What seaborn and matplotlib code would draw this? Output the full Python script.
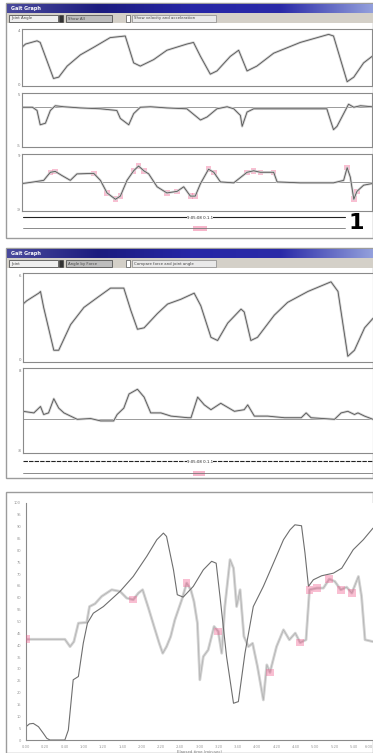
import numpy as np
import pandas as pd
import seaborn as sns
import matplotlib.pyplot as plt
from matplotlib.patches import Rectangle
from matplotlib.lines import Line2D
from matplotlib.colors import LinearSegmentedColormap

W, H = 373, 753

# ---- window 1 : three traces ----
w1_angle_x = [0, 1, 4.3, 5.2, 9, 10.5, 12.9, 16.7, 20.5, 25.2, 29.5, 31.9, 33.8, 37.6, 41.4, 47.1,
              49, 51, 53.8, 55.7, 59.5, 61.9, 64.3, 67.1, 71.9, 79.5, 87.6, 89, 92.9, 94.8, 97.6, 100]
w1_angle_y = [69, 75, 81, 78, 11, 13.5, 34, 55, 69, 87, 90, 40, 34, 46, 63.5, 75,
              78, 52, 19, 25, 52, 63.5, 25, 34, 58, 78, 93, 90, 5, 13.5, 40, 52]

w1_vel_x = [0, 3, 4.3, 5.2, 6.7, 8.1, 9.5, 11.9, 16.7, 22.4, 27.1, 28.1, 30.5, 31.9, 33.8, 36.7, 41.4,
            47.1, 51, 52.9, 55.7, 58.6, 60.5, 62.4, 62.9, 64.3, 66.2, 74.8, 87.1, 88.1, 89, 90, 91.9,
            93.3, 94.8, 96.7, 100]
w1_vel_y = [75, 75, 68.7, 40.6, 43.7, 68.7, 78, 76, 73.7, 72, 68.7, 53, 40.6, 62.5, 75, 76, 73.7,
            72, 50, 56, 72, 76, 72, 59, 37.5, 65.6, 72, 72, 72, 50, 31, 37.5, 62.5, 81, 75, 78, 76]
w1_vel_base = 75

w1_acc_x = [0, 3.3, 6.2, 8.1, 9.5, 11.4, 13.8, 15.7, 20.5, 22.4, 24.3, 26.7, 28.1, 30, 31.9, 33.3,
            34.8, 36.2, 38.6, 41.4, 44.3, 46.2, 48.1, 49.5, 51, 53.3, 54.8, 56.7, 60.5, 64.3, 66.2,
            68.1, 71.9, 72.9, 79.5, 89, 91.9, 92.9, 93.8, 94.8, 95.7, 97.6, 100]
w1_acc_y = [48, 51, 54, 69, 70.6, 63, 54, 66, 67, 54, 30.6, 18.8, 24.7, 54, 71.8, 80.6,
            71.8, 66, 42, 30.6, 33.5, 42, 24.7, 24.7, 48, 74.7, 69, 51, 49.4, 69, 71.8,
            69, 69, 51, 49.4, 49.4, 54, 77.6, 60, 18.8, 33.5, 45, 48]
w1_acc_base = 51

# ---- window 2 : two traces ----
w2_angle_x = [0, 1.1, 4.5, 5, 5.9, 8.8, 10.2, 13.6, 17.4, 21.2, 25, 28.8, 30.8, 32.7, 34.6, 38.4,
              41.3, 45.1, 48.9, 50.8, 53.7, 55.6, 58.5, 62.3, 63.2, 65.1, 67, 71.8, 75.6, 81.4,
              88, 90, 92.8, 94.7, 97.6, 100]
w2_angle_y = [66, 70, 79, 81, 62, 11, 11, 41.5, 62, 73.6, 85, 85, 58.5, 36, 37.7, 54.7,
              66, 71.7, 79, 64, 26.4, 22.6, 43.4, 60, 56.6, 22.6, 26.4, 52.8, 68, 81,
              92.5, 81, 3.8, 11, 37.7, 49]

w2_force_x = [0, 3.1, 5, 5.9, 7.3, 8.8, 10.2, 11.7, 15.5, 19.3, 22.2, 25.9, 26.9, 28.8, 30.3,
              32.7, 34.6, 36.5, 39.4, 42.3, 47.1, 48, 49.9, 51.8, 53.7, 56.5, 60.4, 63.2, 64.2,
              66.1, 69.9, 74.7, 79.5, 80.9, 82.3, 89, 90.9, 92.8, 94.7, 95.7, 97.6, 100]
w2_force_y = [49, 47, 55, 45, 47, 64.7, 53, 47, 39, 40, 37, 37, 45, 53, 70.6,
              76.5, 66.7, 47, 47, 43, 41, 41, 66.7, 57, 51, 59, 49, 51, 57,
              43, 43, 41, 41, 47, 41, 39, 47, 49, 45, 47, 43, 39]
w2_force_base = 39

# ---- bottom chart ----
c_dark_x = [0, 1, 2.1, 3.6, 5, 6, 6.9, 11.2, 12.2, 13.6, 15.1, 16.5, 17.7, 19.4, 22.3, 27.1,
            30.9, 34.8, 37.7, 39.6, 40.5, 42.5, 43.6, 45.3, 48.2, 51.1, 53.5, 54.8, 55.9, 57.8,
            59.8, 61.2, 63.1, 65.5, 68.4, 71.3, 74.2, 76.1, 77.5, 79.4, 80.4, 81.4, 82.8, 85.2,
            88.6, 91, 94.3, 97.2, 100]
c_dark_y = [5.6, 6.8, 7, 5.6, 2.8, 0.7, 0, 0, 4.2, 25.4, 26.8, 40.8, 49.3, 53.5, 56.3, 62.7,
            69, 77.5, 84.5, 87.3, 85.9, 71.8, 61.3, 60.3, 64.8, 71.8, 75.4, 74.6, 60.6, 35.2,
            15.5, 16.2, 36.6, 56.3, 64.8, 74.6, 84.5, 88.7, 90.8, 90.4, 78.9, 64.8, 67.6, 69.3,
            70.4, 72.5, 80.3, 84.5, 89.4]

c_light_x = [0, 11.2, 12.7, 13.8, 15.1, 17.5, 18.3, 19.9, 21.8, 24.7, 27.1, 29, 30.9, 32.4, 33.6,
             35.3, 36.9, 38.4, 39.4, 40.5, 41.7, 42.9, 44.9, 46.3, 47.5, 48.4, 49.4, 50.1, 51.1,
             52.5, 54.2, 55.4, 56.4, 57.3, 58.8, 59.8, 60.7, 61.7, 62.8, 64.1, 65.3, 66.7, 68.4,
             69.4, 70.3, 72.2, 74.2, 75.9, 77.6, 79, 80.7, 81.7, 83.8, 85.7, 87.4, 89, 90.7, 92.4,
             93.9, 95.8, 96.7, 97.7, 100]
c_light_y = [42.5, 42.5, 39.4, 41.5, 49.3, 49.6, 56.3, 57.5, 60.6, 63.4, 62.7, 59.9, 59.2, 62, 63.4,
             55.6, 47.9, 40.8, 36.6, 39.4, 43.7, 50.7, 59.2, 66.2, 63.4, 58.5, 49.3, 25.4, 35.2,
             38, 47.9, 45.8, 36.6, 56.3, 76.1, 72.5, 56.3, 63.4, 43.7, 39.4, 40.8, 31, 16.9,
             31.7, 28.5, 39.4, 46.5, 42.3, 45.1, 41.1, 42.3, 63.4, 64.1, 64.1, 67.9, 66.9, 63.4, 64.5,
             62, 69, 60.6, 42.3, 41.5]
c_light_flag = [1, 0, 0, 0, 0, 0, 0, 0, 0, 0, 0, 0, 1, 0, 0,
                0, 0, 0, 0, 0, 0, 0, 0, 1, 0, 0, 0, 0, 0,
                0, 0, 1, 0, 0, 0, 0, 0, 0, 0, 0, 0, 0, 0,
                0, 1, 0, 0, 0, 0, 1, 0, 1, 1, 0, 1, 0, 1, 0,
                1, 0, 0, 0, 0]

c_xticklabels = ["0:00", "0:20", "0:40", "1:00", "1:20", "1:40", "2:00", "2:20", "2:40", "3:00",
                 "3:20", "3:40", "4:00", "4:20", "4:40", "5:00", "5:20", "5:40", "6:00"]
c_yticklabels = ["0", "5", "10", "15", "20", "25", "30", "35", "40", "45", "50", "55", "60",
                 "65", "70", "75", "80", "85", "90", "95", "100"]

PINK = "#f06090"
GREY_LINE = "#d2d2d2"
DARK_LINE = "#555555"

sns.set_style("white")
plt.rcParams["font.family"] = ["DejaVu Sans"]

fig = plt.figure(figsize=(W / 100, H / 100), dpi=100)
fig.patch.set_facecolor("white")


def rect(x0, y0, x1, y1):
    return [x0 / W, 1 - y1 / H, (x1 - x0) / W, (y1 - y0) / H]


def box(x0, y0, x1, y1, **kw):
    fig.add_artist(Rectangle((x0 / W, 1 - y1 / H), (x1 - x0) / W, (y1 - y0) / H,
                             transform=fig.transFigure, **kw))


def hline(y, x0, x1, **kw):
    fig.add_artist(Line2D([x0 / W, x1 / W], [1 - y / H, 1 - y / H], transform=fig.transFigure, **kw))


def ftext(x, y, s, **kw):
    fig.text(x / W, 1 - y / H, s, **kw)


title_cmap = LinearSegmentedColormap.from_list("tb", ["#4a4a9c", "#1c1c7e", "#2626a6", "#2a2aa8", "#93a0dc"])


def window(y0, y1, title, combo1, combo2, check):
    # window background sits behind the chart axes
    box(6, y0, 372.5, y1, facecolor="white", edgecolor="#9c9c9c", lw=1.0, zorder=-10)
    tb = fig.add_axes(rect(7, y0 + 1, 373, y0 + 10))
    tb.imshow(np.linspace(0, 1, 256)[None, :], cmap=title_cmap, aspect="auto")
    tb.axis("off")
    tb.text(0.012, 0.5, title, transform=tb.transAxes, color="white", fontsize=3.5,
            fontweight="bold", va="center")
    box(7, y0 + 10, 373, y0 + 20, facecolor="#d4d0c8", edgecolor="none")
    box(9, y0 + 12, 58, y0 + 19, facecolor="#efefef", edgecolor="#555", lw=0.6)
    ftext(11, y0 + 15.5, combo1, fontsize=2.8, color="#444", va="center")
    box(59, y0 + 12, 63, y0 + 19, facecolor="#333", edgecolor="#333", lw=0.4)
    box(66, y0 + 12, 112, y0 + 19, facecolor="#bdbdbd", edgecolor="#555", lw=0.6)
    ftext(68, y0 + 15.5, combo2, fontsize=2.8, color="#444", va="center")
    box(126, y0 + 12, 130, y0 + 19, facecolor="white", edgecolor="#555", lw=0.5)
    box(132, y0 + 12, 216, y0 + 19, facecolor="#e9e9e9", edgecolor="#888", lw=0.5)
    ftext(134, y0 + 15.5, check, fontsize=2.8, color="#444", va="center")


def trace_axes(r, xs, ys, ylabels, base=None, flag_thresh=None):
    ax = fig.add_axes(rect(*r))
    df = pd.DataFrame({"t": xs, "v": ys})
    sns.lineplot(data=df, x="t", y="v", ax=ax, color=GREY_LINE, lw=1.8, sort=False)
    sns.lineplot(data=df, x="t", y="v", ax=ax, color=DARK_LINE, lw=0.6, sort=False)
    if base is not None:
        ax.axhline(base, color="#8a8a8a", lw=0.6, zorder=0)
        if flag_thresh is not None:
            hi = df[(df["v"] - base).abs() > flag_thresh]
            sns.scatterplot(data=hi, x="t", y="v", ax=ax, color=PINK, marker="s", s=16,
                            alpha=0.4, edgecolor="none", zorder=1)
    ax.set_xlim(0, 100)
    ax.set_ylim(-3, 103)
    ax.set_yticks([0, 50, 100])
    ax.set_yticklabels(ylabels, fontsize=2.8, color="#666")
    ax.set_xticks(np.arange(0, 101, 5))
    ax.set_xticklabels([])
    ax.tick_params(axis="both", direction="in", length=1.5, width=0.4, pad=1, colors="#777")
    ax.set_xlabel("")
    ax.set_ylabel("")
    for s in ax.spines.values():
        s.set_color("#8a8a8a")
        s.set_linewidth(0.8)
    return ax


# window 1
window(3, 238, "Gait Graph", "Joint Angle", "Show All", "Show velocity and acceleration")
trace_axes((22, 29, 372, 86), w1_angle_x, w1_angle_y, ["0", "", "4"])
trace_axes((22, 93, 372, 147), w1_vel_x, w1_vel_y, ["-5", "", "5"], base=w1_vel_base)
trace_axes((22, 154, 372, 211), w1_acc_x, w1_acc_y, ["-9", "", "9"], base=w1_acc_base, flag_thresh=15)
hline(217, 23, 345, color="#222", lw=0.8)
ftext(200, 218, "9:05:08 0.1.1", fontsize=2.8, color="#222", ha="center", va="center",
      bbox=dict(facecolor="white", edgecolor="none", pad=0.3))
hline(228, 23, 345, color="#777", lw=0.6)
box(193, 226, 207, 231, facecolor="#f7b6cb", edgecolor="none")
ftext(356, 223, "1", fontsize=16, fontweight="bold", color="black", ha="center", va="center")

# window 2
window(248, 478, "Gait Graph", "Joint", "Angle by Force", "Compare force and joint angle")
trace_axes((23, 273, 373, 362), w2_angle_x, w2_angle_y, ["0", "", "6"])
trace_axes((23, 368, 373, 453), w2_force_x, w2_force_y, ["-8", "", "8"], base=w2_force_base)
hline(461, 23, 373, color="#222", lw=0.8, ls=(0, (4, 1)))
ftext(200, 462, "9:05:08 0.1.1", fontsize=2.8, color="#222", ha="center", va="center",
      bbox=dict(facecolor="white", edgecolor="none", pad=0.3))
hline(473, 23, 373, color="#777", lw=0.6)
box(193, 471, 205, 476, facecolor="#f7b6cb", edgecolor="none")

# bottom chart
box(6, 492, 372.5, 752.5, facecolor="white", edgecolor="#9c9c9c", lw=1.0, zorder=-10)
ax = fig.add_axes(rect(26, 503, 373, 740))
dark = pd.DataFrame({"t": c_dark_x, "v": c_dark_y})
light = pd.DataFrame({"t": c_light_x, "v": c_light_y, "flag": c_light_flag})
sns.lineplot(data=light, x="t", y="v", ax=ax, color="#d4d4d4", lw=2.0, sort=False)
sns.lineplot(data=light, x="t", y="v", ax=ax, color="#b0b0b0", lw=0.5, sort=False)
sns.lineplot(data=dark, x="t", y="v", ax=ax, color="#6e6e6e", lw=0.8, sort=False)
sns.scatterplot(data=light[light["flag"] == 1], x="t", y="v", ax=ax, color=PINK, marker="s",
                s=30, alpha=0.4, edgecolor="none", zorder=4)
ax.set_xlim(0, 100)
ax.set_ylim(0, 100)
ax.set_yticks(np.linspace(0, 100, len(c_yticklabels)))
ax.set_yticklabels(c_yticklabels, fontsize=2.6, color="#888")
ax.set_xticks(np.linspace(0, 100, len(c_xticklabels)))
ax.set_xticklabels(c_xticklabels, fontsize=2.6, color="#666")
ax.get_xticklabels()[-1].set_horizontalalignment("right")
ax.tick_params(axis="both", direction="out", length=2.5, width=0.6, pad=1, colors="#999")
ax.set_xlabel("Elapsed time (min:sec)", fontsize=2.8, color="#777", labelpad=0.5)
ax.set_ylabel("")
sns.despine(ax=ax, top=True, right=True)
ax.spines["left"].set_color("#8a8a8a")
ax.spines["bottom"].set_color("#8a8a8a")

fig.savefig("out.png", dpi=100)
